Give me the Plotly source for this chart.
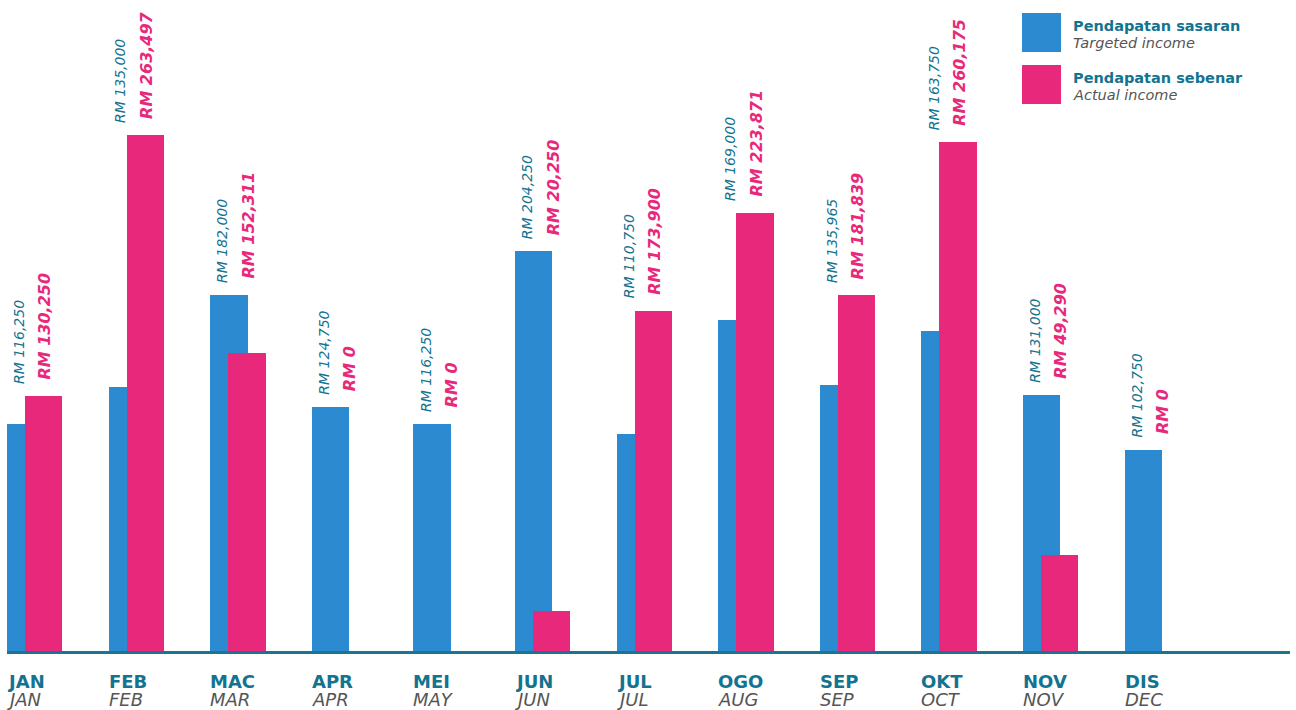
import plotly.graph_objects as go

# ---- data ----
months_ms = ["JAN", "FEB", "MAC", "APR", "MEI", "JUN", "JUL", "OGO", "SEP", "OKT", "NOV", "DIS"]
months_en = ["JAN", "FEB", "MAR", "APR", "MAY", "JUN", "JUL", "AUG", "SEP", "OCT", "NOV", "DEC"]
targeted = [116250, 135000, 182000, 124750, 116250, 204250, 110750, 169000, 135965, 163750, 131000, 102750]
actual = [130250, 263497, 152311, 0, 0, 20250, 173900, 223871, 181839, 260175, 49290, 0]
series_ms = ["Pendapatan sasaran", "Pendapatan sebenar"]
series_en = ["Targeted income", "Actual income"]

# ---- styling ----
BLUE = "#2b8ad0"
PINK = "#e8287a"
TEAL = "#137390"
GRAY = "#555555"
FONT = "DejaVu Sans"

W_PX, H_PX = 1296, 710
ML, MR, MT, MB = 7, 6, 0, 59
plot_w = W_PX - ML - MR
plot_h = H_PX - MT - MB
cat_px = 101.6
bar_w = 37.3 / cat_px
pink_off = 18.0 / cat_px
ymax = plot_h / 0.001957

x = list(range(len(months_ms)))

fig = go.Figure()
fig.add_trace(go.Bar(x=x, y=targeted, width=bar_w, offset=0, marker=dict(color=BLUE, line=dict(width=0)),
                     name=series_en[0], showlegend=False, hoverinfo="y"))
fig.add_trace(go.Bar(x=x, y=actual, width=bar_w, offset=pink_off, marker=dict(color=PINK, line=dict(width=0)),
                     name=series_en[1], showlegend=False, hoverinfo="y"))

annotations = []
for i, (t, a) in enumerate(zip(targeted, actual)):
    top = max(t, a)
    annotations.append(dict(x=i + 12 / cat_px, y=top, xref="x", yref="y", text=f"<i>RM {t:,}</i>",
                            textangle=-90, showarrow=False, xanchor="center", yanchor="bottom", yshift=10,
                            font=dict(family=FONT, size=14, color=TEAL)))
    annotations.append(dict(x=i + 38 / cat_px, y=top, xref="x", yref="y", text=f"<b><i>RM {a:,}</i></b>",
                            textangle=-90, showarrow=False, xanchor="center", yanchor="bottom", yshift=14,
                            font=dict(family=FONT, size=16, color=PINK)))
    annotations.append(dict(x=i, y=(plot_h - 681.5) / plot_h, xref="x", yref="paper", text=f"<b>{months_ms[i]}</b>",
                            showarrow=False, xanchor="left", yanchor="middle", xshift=-2,
                            font=dict(family=FONT, size=18, color=TEAL)))
    annotations.append(dict(x=i, y=(plot_h - 699.5) / plot_h, xref="x", yref="paper", text=f"<i>{months_en[i]}</i>",
                            showarrow=False, xanchor="left", yanchor="middle", xshift=-2,
                            font=dict(family=FONT, size=18, color=GRAY)))


def px_x(p):
    return (p - ML) / plot_w


def px_y(p):
    return (plot_h - (p - MT)) / plot_h


shapes = []
legend_colors = [BLUE, PINK]
legend_tops = [13, 65]
for k in range(2):
    y0 = legend_tops[k]
    shapes.append(dict(type="rect", xref="paper", yref="paper", x0=px_x(1022), x1=px_x(1061),
                       y0=px_y(y0 + 39), y1=px_y(y0), fillcolor=legend_colors[k], line=dict(width=0), layer="above"))
    annotations.append(dict(x=px_x(1071), y=px_y(y0 + 13), xref="paper", yref="paper",
                            text=f"<b>{series_ms[k]}</b>", showarrow=False, xanchor="left", yanchor="middle",
                            font=dict(family=FONT, size=14.5, color=TEAL)))
    annotations.append(dict(x=px_x(1071), y=px_y(y0 + 30), xref="paper", yref="paper",
                            text=f"<i>{series_en[k]}</i>", showarrow=False, xanchor="left", yanchor="middle",
                            font=dict(family=FONT, size=14.5, color=GRAY)))

fig.update_layout(
    width=W_PX, height=H_PX,
    margin=dict(l=ML, r=MR, t=MT, b=MB, pad=0),
    paper_bgcolor="white", plot_bgcolor="white",
    barmode="overlay", bargap=0,
    xaxis=dict(range=[0, plot_w / cat_px], showgrid=False, zeroline=False, showticklabels=False,
               ticks="", showline=True, linecolor="#1b7590", linewidth=3, fixedrange=True),
    yaxis=dict(range=[0, ymax], showgrid=False, zeroline=False, showticklabels=False, ticks="",
               showline=False, fixedrange=True),
    annotations=annotations,
    shapes=shapes,
    font=dict(family=FONT),
)

fig.write_html("out.html", config={"displayModeBar": False},
               post_script="document.body.style.margin='0';document.body.style.overflow='hidden';")
